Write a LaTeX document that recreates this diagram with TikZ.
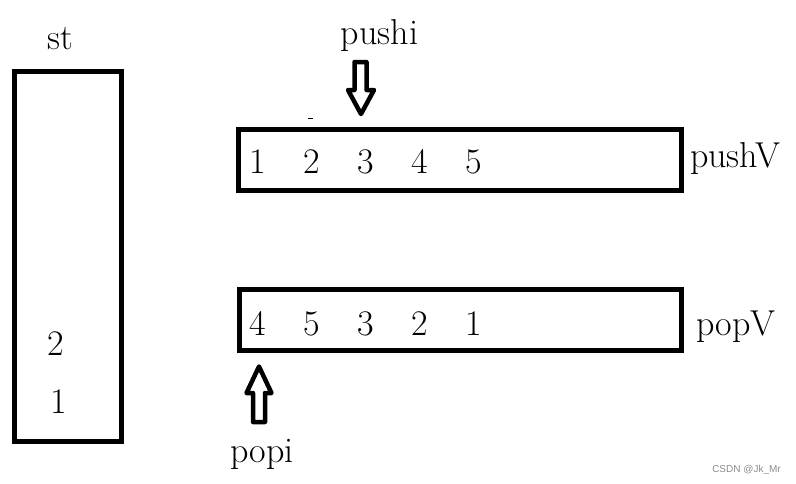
\documentclass[tikz,border=0pt]{standalone}
\usepackage{fontspec}
\newfontfamily\wmfont{Liberation Sans}
\definecolor{wmgray}{rgb}{0.55, 0.55, 0.55}
\tikzset{box/.style={draw, line width=5pt, inner sep=0pt}}
\tikzset{lbl/.style={font=\fontsize{36}{40}\selectfont, inner sep=0pt, anchor=base}}
\tikzset{hollow/.style={line width=4.5pt, line join=round}}

\begin{document}
\begin{tikzpicture}[x=1pt, y=-1pt]%{{{
        \useasboundingbox (0,0) rectangle (796,483);

        \node[box, minimum width=107pt, minimum height=370pt] (St) at (67.5, 256) {};
        \node[box, minimum width=443pt, minimum height=61pt] (PushV) at (459.5, 159.5) {};
        \node[box, minimum width=442pt, minimum height=61pt] (PopV) at (460, 319.5) {};

        \node[lbl] (Stl) at (60, 49) {st};
        \node[lbl] (Pushil) at (379.5, 44) {pushi};
        \node[lbl] (Popil) at (262, 462) {popi};
        \node[lbl, anchor=base west] (PushVl) at (690, 167) {pushV};
        \node[lbl, anchor=base west] (PopVl) at (696, 335) {popV};

        \node[lbl] (S2) at (56, 355) {2};
        \node[lbl] (S1) at (58.5, 413) {1};

        \node[lbl] (U1) at (258, 173) {1};
        \node[lbl] (U2) at (312, 173) {2};
        \node[lbl] (U3) at (366, 173) {3};
        \node[lbl] (U4) at (420, 173) {4};
        \node[lbl] (U5) at (474, 173) {5};

        \node[lbl] (O1) at (258, 335) {4};
        \node[lbl] (O2) at (312, 335) {5};
        \node[lbl] (O3) at (366, 335) {3};
        \node[lbl] (O4) at (420, 335) {2};
        \node[lbl] (O5) at (474, 335) {1};

        \draw [hollow] (354.5, 62) -- (366.5, 62) -- (366.5, 90) -- (374, 90)
              -- (361, 114) -- (348, 90) -- (354.5, 90) -- cycle;
        \draw [hollow] (253, 422) -- (265, 422) -- (265, 393) -- (271.5, 393)
              -- (259, 366.5) -- (246.5, 393) -- (253, 393) -- cycle;
        \draw [line width=1pt] (308, 118) -- (313, 118);

        \node[font=\wmfont\fontsize{10}{12}\selectfont, text=wmgray, anchor=base, inner sep=0pt] (Wm) at (746.5, 472) {CSDN @Jk\_Mr};
    \end{tikzpicture}
\end{document}
